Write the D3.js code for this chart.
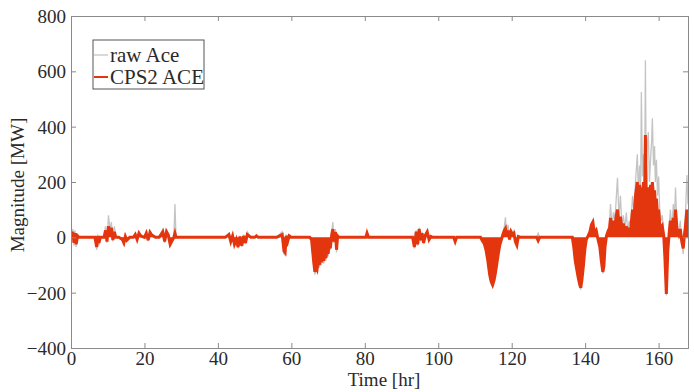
<!DOCTYPE html>
<html><head><meta charset="utf-8">
<script src="https://cdn.jsdelivr.net/npm/d3@7"></script>
<style>html,body{margin:0;padding:0;background:#fff;}svg{display:block;}</style>
</head><body>
<svg id="chart" width="694" height="392"></svg>
<script>
// ---- data ----
const timeHr = [
  0,0.5,0.8,1.1,1.4,1.8,2.2,3,6.5,7,7.3,7.6,8,9,9.4,9.8,10.2,10.6,11,11.4,11.8,12.2,13,14,14.4,14.8,15.2,16,17,17.5,18,18.5,19,20,20.5,21,21.5,22,23,24,24.5,25,25.5,26,26.5,27,28,28.3,28.6,29,
  42,43,43.5,44,44.5,45,45.5,46,46.5,47,47.5,48,49,50,50.5,51,52,56,57.5,58,58.3,58.6,59,59.4,60,
  65,65.5,65.8,66.1,66.4,66.7,67,67.3,67.6,67.9,68.2,68.5,68.8,69.1,69.4,69.7,70,70.3,70.6,71,71.3,71.6,72,72.3,72.6,73,74,
  80.3,80.6,81,93,93.5,94,94.4,94.8,95.2,95.6,96,96.5,97,97.5,98,98.5,104.2,104.6,105,
  111.5,112,112.5,113,113.5,114,114.4,114.8,115.2,115.6,116,116.4,116.8,117.2,117.6,118,118.3,118.6,119,119.4,119.8,120.2,120.6,121,121.4,121.8,122.5,126.8,127.2,127.6,
  136.5,136.9,137.3,137.7,138.1,138.5,138.8,139.1,139.5,139.9,140.3,140.8,141.3,141.7,142.1,142.5,143,143.5,144,144.4,144.8,145.1,145.4,145.8,146.2,
  146.5,146.9,147.3,147.7,148.1,148.5,148.8,149.2,149.6,150,150.4,150.8,151.2,151.6,152,152.4,152.9,153.3,153.7,154.2,154.5,154.8,155.1,155.3,155.6,155.9,156.2,156.4,156.6,156.9,157.2,157.5,157.8,158.1,158.3,158.6,158.9,159.1,159.4,159.7,160,160.3,160.6,161,161.4,161.7,162.1,162.5,162.9,163.2,163.6,164,164.3,164.6,165,165.5,165.9,166.3,166.7,167,167.3,167.7,168
];
const rawAce = [
  0,30,-30,25,-35,10,0,0,0,-45,10,-30,0,0,40,-20,80,30,55,-15,40,0,0,-10,-25,5,-15,0,0,15,-10,20,5,0,20,-15,25,10,0,0,15,30,-20,30,10,-30,0,120,0,0,
  0,15,-20,10,-30,-10,-40,5,-35,10,-25,20,0,0,10,0,0,0,20,-60,-65,10,-20,10,0,
  0,-10,-60,-100,-135,-115,-125,-90,-110,-80,-100,-70,-95,-60,-85,-50,-70,-30,-45,20,55,-20,30,-55,10,0,0,
  0,20,0,0,-40,25,-30,35,-15,20,-25,10,25,-10,5,0,0,-20,0,
  0,-15,-25,-50,-90,-140,-165,-175,-160,-130,-95,-60,-30,-10,15,40,72,10,45,-10,30,15,25,-20,-30,5,0,0,15,0,
  0,-40,-90,-120,-150,-175,-185,-160,-110,-50,-10,10,25,50,60,20,30,-10,-40,-90,-130,-110,-40,10,30,
  20,120,40,90,60,150,215,70,150,40,80,30,90,20,60,40,150,90,200,300,150,260,180,525,220,300,200,640,250,330,380,200,280,350,430,260,330,200,280,150,220,100,60,80,10,-80,-210,-60,40,100,30,120,60,180,40,20,60,-20,-60,10,80,225,120
];
const cps2Ace = [
  0,20,-20,15,-25,5,0,0,0,-35,5,-20,0,0,25,-15,40,20,35,-10,20,0,0,-8,-20,3,-10,0,0,10,-8,15,5,0,15,-10,18,8,0,0,10,20,-15,20,8,-25,0,15,0,0,
  0,10,-15,5,-25,-8,-35,3,-30,5,-20,10,0,0,5,0,0,0,10,-50,-55,5,-15,5,0,
  0,-8,-50,-90,-125,-105,-115,-85,-100,-75,-90,-65,-85,-55,-75,-45,-60,-25,-40,10,30,-15,20,-45,5,0,0,
  0,15,0,0,-35,20,-25,30,-10,15,-20,8,20,-8,3,0,0,-15,0,
  0,-12,-22,-45,-85,-135,-160,-172,-155,-125,-90,-55,-25,-8,10,25,32,5,25,-8,20,10,15,-15,-28,3,0,0,-12,0,
  0,-35,-85,-115,-145,-170,-182,-155,-105,-45,-8,5,20,45,55,15,25,-8,-35,-85,-125,-105,-35,5,20,
  15,70,30,60,40,80,100,50,75,30,50,20,40,10,30,30,100,70,150,200,120,190,140,180,150,200,160,370,180,170,180,140,190,160,200,150,170,120,140,80,100,50,30,40,5,-70,-205,-50,20,60,20,70,40,100,30,10,30,-15,-40,5,40,100,60
];
const xTicks = [0,20,40,60,80,100,120,140,160];
const yTicks = [-400,-200,0,200,400,600,800];
const seriesNames = ["raw Ace", "CPS2 ACE"];
const xLabel = "Time [hr]";
const yLabel = "Magnitude [MW]";

if (timeHr.length !== rawAce.length || timeHr.length !== cps2Ace.length) {
  throw new Error("length mismatch " + timeHr.length + " " + rawAce.length + " " + cps2Ace.length);
}

// ---- layout ----
const L = 71, R = 688, T = 16, B = 348;
const font = "'Liberation Serif','Times New Roman',serif";
const svg = d3.select("#chart");
const x = d3.scaleLinear().domain([0, 168]).range([L, R]);
const y = d3.scaleLinear().domain([-400, 800]).range([B, T]);
const red = "#e4360e", gray = "#c4c4c4";

const pts = timeHr.map((t, i) => ({t, raw: rawAce[i], cps: cps2Ace[i]}));

svg.append("defs").append("clipPath").attr("id", "plotclip")
  .append("rect").attr("x", L).attr("y", T).attr("width", R - L).attr("height", B - T);

const g = svg.append("g").attr("clip-path", "url(#plotclip)");
g.append("path").datum(pts)
  .attr("fill", "none").attr("stroke", gray).attr("stroke-width", 1.3)
  .attr("d", d3.line().x(d => x(d.t)).y(d => y(d.raw)));
g.append("path").datum(pts)
  .attr("fill", red).attr("stroke", "none")
  .attr("d", d3.area().x(d => x(d.t)).y0(y(0)).y1(d => y(d.cps)));
g.append("path").datum(pts)
  .attr("fill", "none").attr("stroke", red).attr("stroke-width", 3)
  .attr("d", d3.line().x(d => x(d.t)).y(d => y(d.cps)));

// ---- axes (MATLAB-style box, inward ticks) ----
const axColor = "#8a8a8a";
const tickLen = 5;
const axB = svg.append("g").attr("transform", `translate(0,${B})`)
  .call(d3.axisBottom(x).tickValues(xTicks).tickSize(-tickLen).tickPadding(6).tickFormat(d3.format("d")));
const axT = svg.append("g").attr("transform", `translate(0,${T})`)
  .call(d3.axisTop(x).tickValues(xTicks).tickSize(-tickLen).tickFormat(""));
const axL = svg.append("g").attr("transform", `translate(${L},0)`)
  .call(d3.axisLeft(y).tickValues(yTicks).tickSize(-tickLen).tickPadding(5).tickFormat(d3.format("d")));
const axR = svg.append("g").attr("transform", `translate(${R},0)`)
  .call(d3.axisRight(y).tickValues(yTicks).tickSize(-tickLen).tickFormat(""));
[axB, axT, axL, axR].forEach(a => {
  a.select(".domain").attr("stroke", axColor).attr("stroke-width", 1);
  a.selectAll(".tick line").attr("stroke", axColor);
  a.selectAll("text").attr("font-family", font).attr("font-size", 19).attr("fill", "#2a2a2a");
});
axB.selectAll("text").attr("dy", "0.6em");
axL.selectAll("text").attr("dy", "0.35em");

// axis labels
svg.append("text").attr("x", 384).attr("y", 386).attr("text-anchor", "middle")
  .attr("font-family", font).attr("font-size", 19).attr("fill", "#2a2a2a").text(xLabel);
svg.append("text").attr("transform", `translate(24,${(T + B) / 2 + 3}) rotate(-90)`)
  .attr("text-anchor", "middle").attr("font-family", font).attr("font-size", 19)
  .attr("fill", "#2a2a2a").text(yLabel);

// ---- legend ----
const lgX = 93, lgY = 40, lgW = 111, lgH = 49;
svg.append("defs").append("clipPath").attr("id", "lgclip")
  .append("rect").attr("x", lgX).attr("y", lgY).attr("width", lgW).attr("height", lgH);
const lg = svg.append("g");
lg.append("rect").attr("x", lgX).attr("y", lgY).attr("width", lgW).attr("height", lgH)
  .attr("fill", "#fff").attr("stroke", "#555").attr("stroke-width", 1);
const lgItems = lg.append("g").attr("clip-path", "url(#lgclip)");
[gray, red].forEach((c, i) => {
  const cy = lgY + 15 + i * 22;
  lgItems.append("line").attr("x1", lgX + 1).attr("x2", lgX + 15).attr("y1", cy).attr("y2", cy)
    .attr("stroke", c).attr("stroke-width", i ? 2 : 1.3);
  lgItems.append("text").attr("x", lgX + 17).attr("y", cy).attr("dy", "0.35em")
    .attr("font-family", font).attr("font-size", 21).attr("fill", "#2a2a2a").text(seriesNames[i]);
});
</script>
</body></html>
